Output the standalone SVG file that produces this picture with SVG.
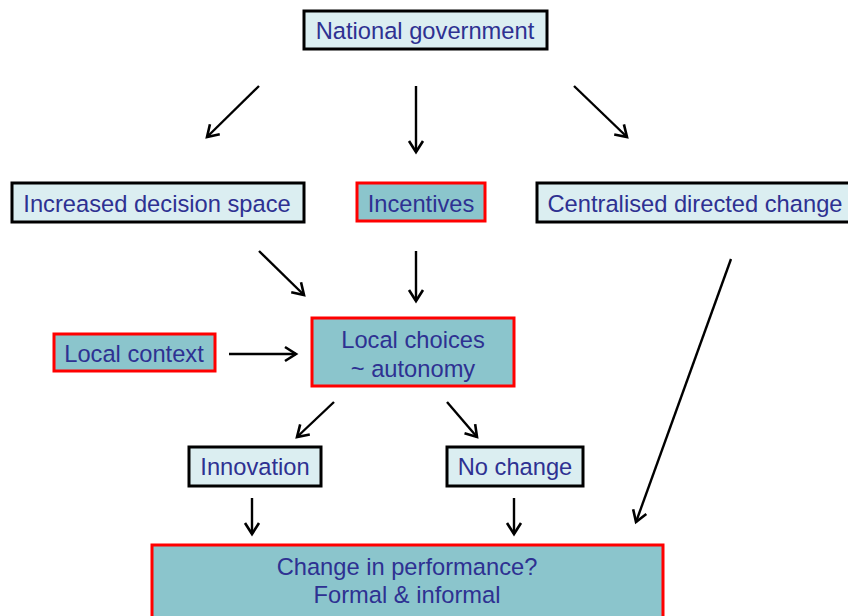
<svg xmlns="http://www.w3.org/2000/svg" width="848" height="616" viewBox="0 0 848 616">
<style>
.light{fill:#dbeef1;stroke:#000;stroke-width:3}
.dark{fill:#8bc5cc;stroke:#ff0000;stroke-width:3}
text{font-family:"Liberation Sans",Arial,sans-serif;font-size:23.7px;fill:#2e3192;text-anchor:middle}
.conn line{stroke:#000;stroke-width:2.4;marker-end:url(#arr)}
</style>
<defs>
<marker id="arr" markerUnits="userSpaceOnUse" markerWidth="18" markerHeight="18" viewBox="-13 -9 15 18" refX="0" refY="0" orient="auto">
<polyline points="-11,-7 0,0 -11,7" fill="none" stroke="#000" stroke-width="2.6"/>
</marker>
</defs>
<rect width="848" height="616" fill="#fff"/>
<g id="national"><rect class="light" x="304" y="11" width="243" height="38"/><text x="425" y="39">National government</text></g>
<g id="decision"><rect class="light" x="12" y="183" width="292" height="39"/><text x="157" y="212">Increased decision space</text></g>
<g id="incentives"><rect class="dark" x="357" y="183" width="128" height="38"/><text x="421" y="212">Incentives</text></g>
<g id="centralised"><rect class="light" x="537" y="183" width="315" height="39"/><text x="695" y="212">Centralised directed change</text></g>
<g id="localcontext"><rect class="dark" x="54" y="334" width="161" height="37"/><text x="134" y="362">Local context</text></g>
<g id="localchoices"><rect class="dark" x="312" y="318" width="202" height="68"/><text x="413" y="348">Local choices</text><text x="413" y="377">~ autonomy</text></g>
<g id="innovation"><rect class="light" x="189" y="447" width="132" height="39"/><text x="255" y="475">Innovation</text></g>
<g id="nochange"><rect class="light" x="447" y="447" width="136" height="39"/><text x="515" y="475">No change</text></g>
<g id="performance"><rect class="dark" x="152" y="545" width="511" height="74"/><text x="407" y="575">Change in performance?</text><text x="407" y="603">Formal &amp; informal</text></g>
<g class="conn" id="connectors">
<line x1="259" y1="86" x2="207" y2="137"/>
<line x1="416" y1="86" x2="416" y2="152"/>
<line x1="574" y1="86" x2="627" y2="137"/>
<line x1="259" y1="251" x2="304" y2="295"/>
<line x1="416" y1="251" x2="416" y2="301"/>
<line x1="731" y1="259" x2="636" y2="522"/>
<line x1="229" y1="354" x2="296" y2="354"/>
<line x1="334" y1="402" x2="297" y2="437"/>
<line x1="447" y1="402" x2="477" y2="437"/>
<line x1="252" y1="498" x2="252" y2="534"/>
<line x1="514" y1="498" x2="514" y2="534"/>
</g>
</svg>
